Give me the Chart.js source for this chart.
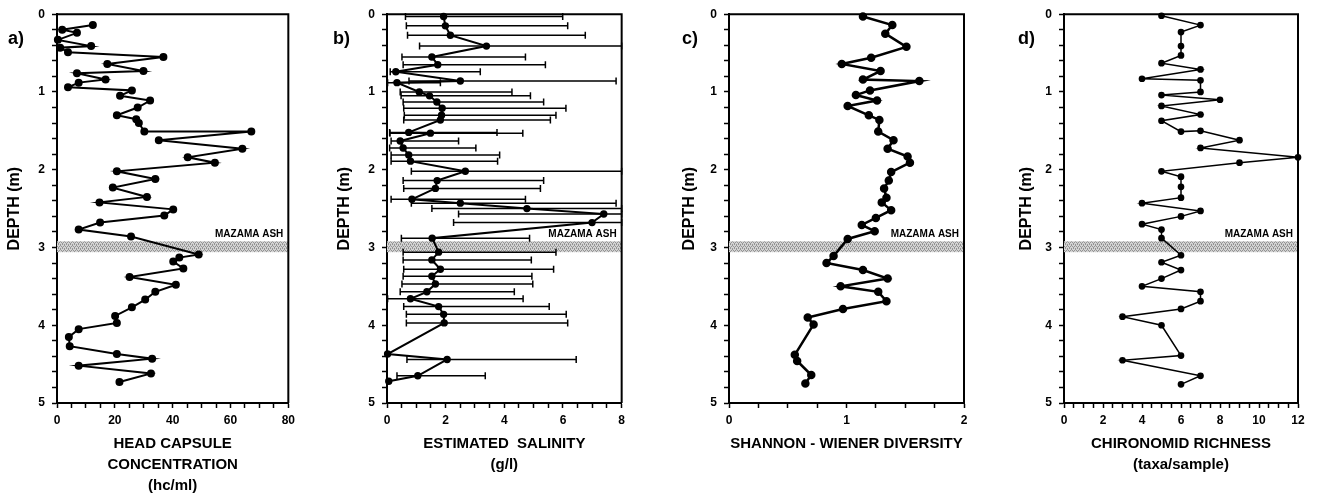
<!DOCTYPE html>
<html>
<head>
<meta charset="utf-8">
<script src="https://cdn.jsdelivr.net/npm/chart.js@4.4.0/dist/chart.umd.min.js"></script>
<style>
html, body { margin: 0; padding: 0; background: #fff; }
#wrap { position: relative; width: 1317px; height: 503px; overflow: hidden; }
.panel { position: absolute; top: 0; }
</style>
</head>
<body>
<div id="wrap">
  <canvas class="panel" id="chartA" width="300" height="503" style="left:0px"></canvas>
  <canvas class="panel" id="chartB" width="300" height="503" style="left:330px"></canvas>
  <canvas class="panel" id="chartC" width="310" height="503" style="left:672px"></canvas>
  <canvas class="panel" id="chartD" width="310" height="503" style="left:1007px"></canvas>
</div>
<script>
// a) head capsule concentration (hc/ml) by depth (m)
const headDepth = [0.14, 0.20, 0.24, 0.33, 0.41, 0.43, 0.49, 0.55, 0.64, 0.73, 0.76, 0.84, 0.88, 0.94, 0.98,
  1.05, 1.11, 1.20, 1.30, 1.35, 1.40, 1.51, 1.51, 1.62, 1.73, 1.84, 1.91, 2.02, 2.12, 2.23, 2.35, 2.42,
  2.51, 2.59, 2.68, 2.77, 2.86, 3.09, 3.13, 3.18, 3.27, 3.38, 3.48, 3.57, 3.67, 3.77, 3.88, 3.97, 4.05,
  4.15, 4.27, 4.37, 4.43, 4.52, 4.62, 4.73]
const headConc = [12.4, 1.8, 6.9, 0.3, 11.8, 1.1, 3.8, 36.8, 17.4, 29.9, 6.9, 16.8, 7.5, 3.8, 25.9,
  21.8, 32.2, 27.9, 20.7, 27.4, 28.3, 30.2, 67.2, 35.2, 64.1, 45.2, 54.6, 20.7, 34.0, 19.3, 31.1, 14.7,
  40.2, 37.1, 14.9, 7.5, 25.6, 49.0, 42.3, 40.2, 43.7, 25.1, 41.1, 34.0, 30.5, 25.9, 20.1, 20.7, 7.5,
  4.1, 4.4, 20.7, 32.9, 7.5, 32.5, 21.6]

// b) estimated salinity (g/l) with its range
const salDepth = [0.03, 0.15, 0.27, 0.41, 0.55, 0.65, 0.74, 0.86, 0.88, 1.00, 1.05, 1.13, 1.21, 1.30, 1.36,
  1.52, 1.53, 1.63, 1.72, 1.81, 1.89, 2.02, 2.14, 2.24, 2.38, 2.43, 2.50, 2.57, 2.68, 2.88,
  3.06, 3.16, 3.28, 3.37, 3.47, 3.57, 3.66, 3.76, 3.86, 3.97, 4.37, 4.44, 4.65, 4.72]
const salValue = [1.93, 1.99, 2.16, 3.39, 1.53, 1.73, 0.30, 2.50, 0.34, 1.10, 1.45, 1.70, 1.88, 1.86, 1.82,
  0.74, 1.48, 0.45, 0.55, 0.74, 0.80, 2.67, 1.71, 1.65, 0.85, 2.50, 4.77, 7.39, 6.99, 1.54,
  1.76, 1.53, 1.82, 1.53, 1.65, 1.36, 0.80, 1.76, 1.93, 1.95, 0.02, 2.05, 1.05, 0.06]
const salLow = [0.63, 0.66, 0.70, 1.11, 0.51, 0.55, 0.11, 0.75, 0.02, 0.45, 0.48, 0.55, 0.57, 0.59, 0.57,
  0.09, 0.10, 0.14, 0.09, 0.14, 0.14, 0.83, 0.55, 0.57, 0.14, 0.83, 1.53, 2.44, 2.27, 0.49,
  0.55, 0.55, 0.57, 0.55, 0.51, 0.45, 0.02, 0.57, 0.66, 0.66, null, 0.68, 0.34, null]
const salHigh = [5.99, 6.16, 6.76, 8.0, 4.72, 5.40, 3.18, 7.81, 1.82, 4.26, 4.89, 5.34, 6.10, 5.76, 5.57,
  3.75, 4.63, 2.44, 3.03, 3.84, 3.77, 8.0, 5.34, 5.23, 4.72, 7.81, 8.0, 8.0, 8.0, 4.86,
  5.76, 4.92, 5.68, 4.94, 4.97, 4.34, 4.64, 5.53, 6.11, 6.16, null, 6.45, 3.35, null]

// c) Shannon-Wiener diversity
const divDepth = [0.03, 0.14, 0.25, 0.42, 0.56, 0.64, 0.73, 0.84, 0.86, 0.98, 1.04, 1.11, 1.18, 1.30, 1.36,
  1.51, 1.62, 1.73, 1.83, 1.91, 2.03, 2.14, 2.24, 2.36, 2.42, 2.52, 2.62, 2.71, 2.79, 2.89,
  3.11, 3.20, 3.29, 3.40, 3.50, 3.57, 3.69, 3.79, 3.90, 3.99, 4.38, 4.46, 4.64, 4.75]
const divValue = [1.14, 1.39, 1.33, 1.51, 1.21, 0.96, 1.29, 1.14, 1.62, 1.20, 1.08, 1.26, 1.01, 1.19, 1.28,
  1.27, 1.40, 1.35, 1.52, 1.54, 1.38, 1.36, 1.32, 1.34, 1.30, 1.38, 1.25, 1.13, 1.24, 1.01,
  0.89, 0.83, 1.14, 1.35, 0.95, 1.27, 1.34, 0.97, 0.67, 0.72, 0.56, 0.58, 0.70, 0.65]

// d) chironomid richness (taxa/sample)
const richDepth = [0.02, 0.14, 0.23, 0.41, 0.53, 0.63, 0.71, 0.83, 0.85, 1.00, 1.04, 1.10, 1.18, 1.29, 1.37,
  1.51, 1.50, 1.62, 1.72, 1.84, 1.91, 2.02, 2.09, 2.22, 2.36, 2.43, 2.53, 2.60, 2.70, 2.77, 2.88,
  3.10, 3.19, 3.29, 3.40, 3.50, 3.57, 3.69, 3.79, 3.89, 4.00, 4.39, 4.45, 4.65, 4.76]
const richValue = [5, 7, 6, 6, 6, 5, 7, 4, 7, 7, 5, 8, 5, 7, 5,
  6, 7, 9, 7, 12, 9, 5, 6, 6, 6, 4, 7, 6, 4, 5, 5,
  6, 5, 6, 5, 4, 7, 7, 6, 3, 5, 6, 3, 7, 6]

// ash layer and depth axis
const ashTop = 2.92
const ashBottom = 3.06
const depthMax = 5

const boldFont = 'Liberation Sans, Arial, sans-serif'

function toPoints(depths, values) {
  return depths.map((d, i) => ({x: values[i], y: d}))
}

// grey stippled fill for the Mazama ash band
function ashPattern(ctx) {
  const c = document.createElement('canvas')
  c.width = 4
  c.height = 4
  const g = c.getContext('2d')
  g.fillStyle = '#d2d2d2'
  g.fillRect(0, 0, 4, 4)
  g.fillStyle = '#939393'
  g.fillRect(0, 0, 1, 1)
  g.fillRect(2, 0, 1, 1)
  g.fillRect(1, 2, 1, 1)
  g.fillRect(3, 2, 1, 1)
  g.fillRect(0, 1, 1, 1)
  g.fillRect(2, 3, 1, 1)
  return ctx.createPattern(c, 'repeat')
}

// band, error bars, box, labels
const extras = {
  id: 'extras',
  beforeDatasetsDraw(chart, args, opts) {
    const {ctx, chartArea: area, scales: {x, y}} = chart
    ctx.save()
    const t = y.getPixelForValue(ashTop)
    const b = y.getPixelForValue(ashBottom)
    ctx.fillStyle = ashPattern(ctx)
    ctx.fillRect(area.left, t, area.right - area.left, b - t)
    ctx.fillStyle = '#000'
    ctx.font = 'bold 10px ' + boldFont
    ctx.textAlign = 'right'
    ctx.textBaseline = 'bottom'
    ctx.fillText('MAZAMA ASH', area.right - 5, t - 2)
    // salinity ranges
    if (opts.low) {
      ctx.strokeStyle = '#000'
      ctx.lineWidth = 1.5
      opts.depth.forEach((d, i) => {
        if (opts.low[i] == null) return
        const py = y.getPixelForValue(d)
        const x1 = x.getPixelForValue(opts.low[i])
        const x2 = x.getPixelForValue(Math.min(opts.high[i], x.max))
        ctx.beginPath()
        ctx.moveTo(x1, py)
        ctx.lineTo(x2, py)
        ctx.moveTo(x1, py - 3.5)
        ctx.lineTo(x1, py + 3.5)
        ctx.moveTo(x2, py - 3.5)
        ctx.lineTo(x2, py + 3.5)
        ctx.stroke()
      })
    }
    ctx.restore()
  },
  afterDraw(chart, args, opts) {
    const {ctx, chartArea: area} = chart
    ctx.save()
    ctx.strokeStyle = '#000'
    ctx.lineWidth = 2
    ctx.beginPath()
    ctx.moveTo(area.left, area.top)
    ctx.lineTo(area.right, area.top)
    ctx.lineTo(area.right, area.bottom)
    ctx.stroke()
    ctx.fillStyle = '#000'
    ctx.font = 'bold 18px ' + boldFont
    ctx.textAlign = 'left'
    ctx.textBaseline = 'middle'
    ctx.fillText(opts.letter, opts.letterX, 39)
    ctx.restore()
  }
}

function majorLabel(step) {
  return function(v) {
    const r = v / step
    return Math.abs(r - Math.round(r)) < 1e-6 ? String(Math.round(v * 100) / 100) : ''
  }
}

function makeChart(id, cfg) {
  const lines = Array.isArray(cfg.xTitle) ? cfg.xTitle.length : 1
  return new Chart(document.getElementById(id), {
    type: 'scatter',
    data: {
      datasets: [{
        data: cfg.points,
        showLine: true,
        borderColor: '#000',
        backgroundColor: '#000',
        borderWidth: cfg.lineWidth,
        pointRadius: cfg.radius,
        pointHoverRadius: cfg.radius,
        tension: 0,
        clip: false
      }]
    },
    options: {
      responsive: false,
      animation: false,
      events: [],
      layout: {padding: {top: 13, right: cfg.padRight, left: 0, bottom: 0}},
      plugins: {
        legend: {display: false},
        tooltip: {enabled: false},
        extras: {letter: cfg.letter, letterX: cfg.letterX, depth: cfg.errDepth, low: cfg.errLow, high: cfg.errHigh}
      },
      scales: {
        x: {
          type: 'linear',
          min: 0,
          max: cfg.xMax,
          afterFit(scale) { scale.height = 100 },
          ticks: {
            stepSize: cfg.xStep,
            autoSkip: false,
            maxRotation: 0,
            padding: 5,
            color: '#000',
            font: {family: boldFont, size: 12, weight: 'bold'},
            callback: majorLabel(cfg.xMajor)
          },
          grid: {drawOnChartArea: false, tickLength: 5, tickWidth: 1.5, tickColor: '#000'},
          border: {color: '#000', width: 2},
          title: {
            display: true,
            text: cfg.xTitle,
            color: '#000',
            font: {family: boldFont, size: 15, weight: 'bold', lineHeight: 1.4},
            padding: {top: 0, bottom: 48.5 - 21 * (lines - 1)}
          }
        },
        y: {
          type: 'linear',
          reverse: true,
          min: 0,
          max: depthMax,
          afterFit(scale) { scale.width = 57 },
          ticks: {
            stepSize: 0.2,
            autoSkip: false,
            padding: 7,
            color: '#000',
            font: {family: boldFont, size: 12, weight: 'bold'},
            callback: majorLabel(1)
          },
          grid: {drawOnChartArea: false, tickLength: 5, tickWidth: 1.5, tickColor: '#000'},
          border: {color: '#000', width: 2},
          title: {
            display: true,
            text: 'DEPTH (m)',
            color: '#000',
            font: {family: boldFont, size: 16, weight: 'bold'},
            padding: {top: cfg.yTitlePad, bottom: 0}
          }
        }
      }
    },
    plugins: [extras]
  })
}

makeChart('chartA', {
  points: toPoints(headDepth, headConc), lineWidth: 2, radius: 3,
  xMax: 80, xStep: 5, xMajor: 20, padRight: 11,
  xTitle: ['HEAD CAPSULE', 'CONCENTRATION', '(hc/ml)'],
  letter: 'a)', letterX: 8, yTitlePad: 5
})
makeChart('chartB', {
  points: toPoints(salDepth, salValue), lineWidth: 2, radius: 2.7,
  xMax: 8, xStep: 0.5, xMajor: 2, padRight: 8,
  xTitle: ['ESTIMATED  SALINITY', '(g/l)'],
  letter: 'b)', letterX: 3, yTitlePad: 5,
  errDepth: salDepth, errLow: salLow, errHigh: salHigh
})
makeChart('chartC', {
  points: toPoints(divDepth, divValue), lineWidth: 2.5, radius: 3,
  xMax: 2, xStep: 0.25, xMajor: 1, padRight: 18,
  xTitle: 'SHANNON - WIENER DIVERSITY',
  letter: 'c)', letterX: 10, yTitlePad: 8
})
makeChart('chartD', {
  points: toPoints(richDepth, richValue), lineWidth: 1.5, radius: 2.6,
  xMax: 12, xStep: 0.5, xMajor: 2, padRight: 19,
  xTitle: ['CHIRONOMID RICHNESS', '(taxa/sample)'],
  letter: 'd)', letterX: 11, yTitlePad: 10
})
</script>
</body>
</html>
